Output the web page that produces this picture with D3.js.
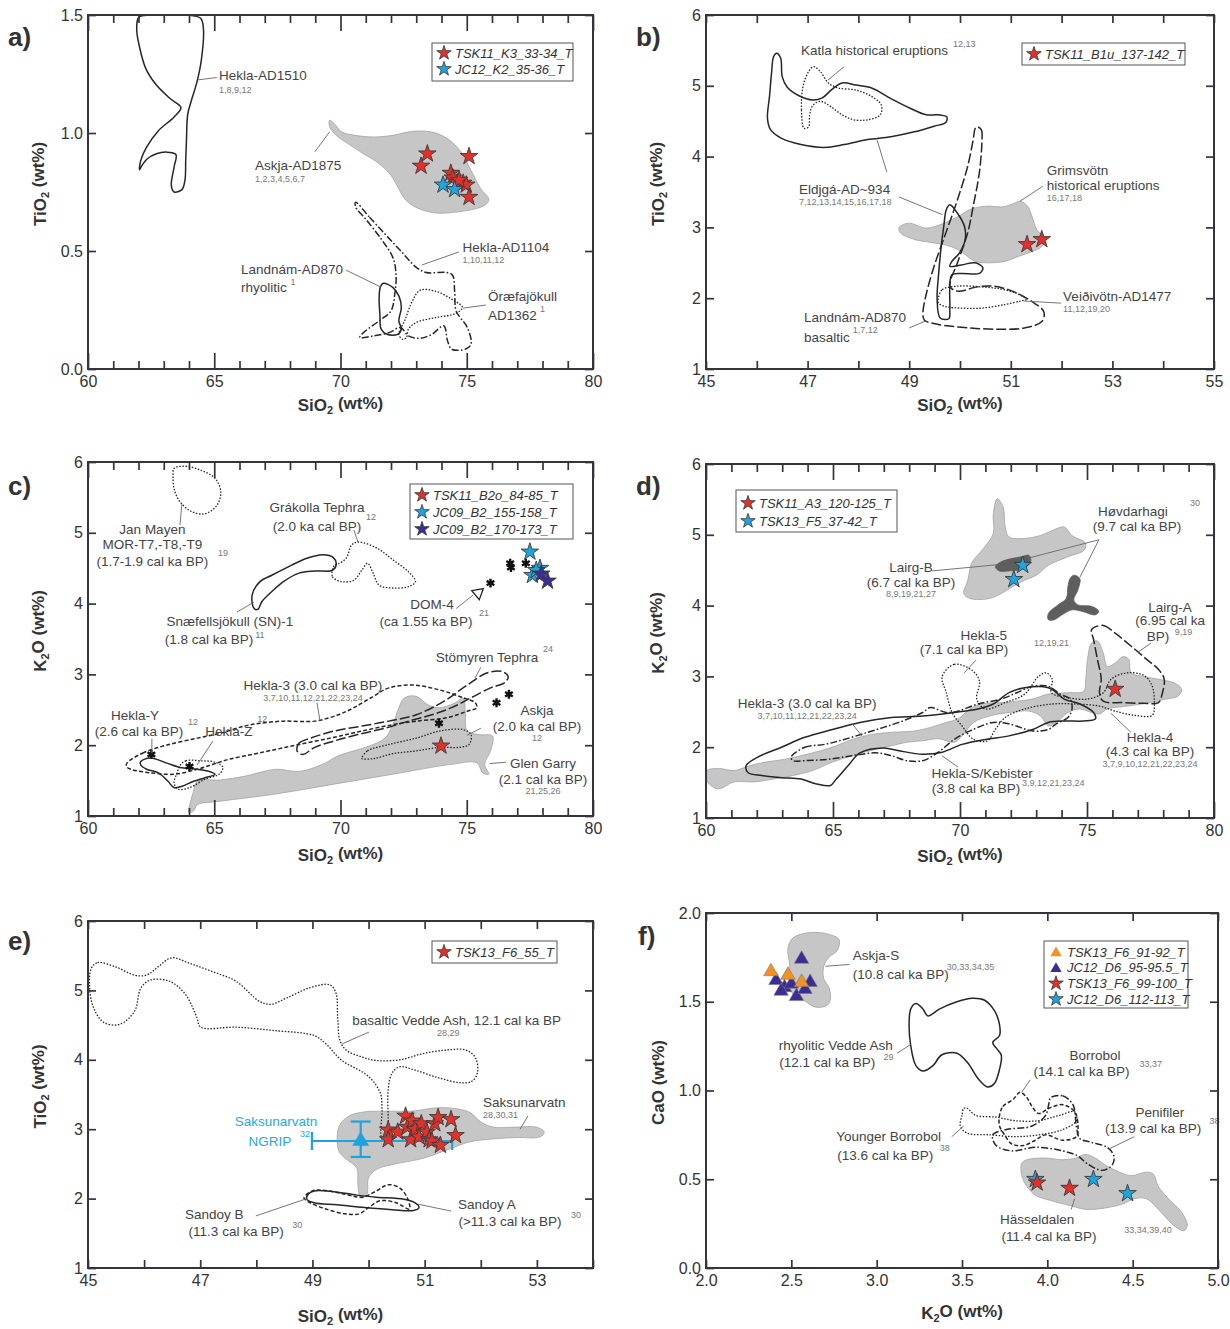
<!DOCTYPE html>
<html>
<head>
<meta charset="utf-8">
<script src="https://cdn.jsdelivr.net/npm/d3@7"></script>
<style>
  body { margin: 0; background: #fff; }
  svg text { font-family: "Liberation Sans", Arial, Helvetica, sans-serif; }
</style>
</head>
<body>
<script>
// colours of the sample markers
const RED = "#e2312b", BLUE = "#1ea5dd", PURPLE = "#3b2d93", ORANGE = "#f39222";

// ---------- panel a : TiO2 vs SiO2 ----------
const aHekla1510 = [[62.01,1.49],[62.48,1.50],[63.87,1.50],[64.46,1.486],[64.57,1.443],[64.49,1.31],[64.30,1.21],[64.10,1.14],[63.95,1.08],[63.90,0.97],[63.87,0.884],[63.84,0.80],[63.72,0.76],[63.41,0.75],[63.30,0.778],[63.41,0.856],[63.48,0.909],[63.10,0.919],[62.71,0.912],[62.35,0.891],[62.14,0.863],[62.04,0.844],[62.09,0.884],[62.32,0.94],[62.79,1.01],[63.41,1.068],[63.68,1.108],[63.25,1.146],[62.71,1.203],[62.29,1.273],[62.04,1.365],[61.93,1.436]];
const aAskja1875 = [[69.57,1.054],[69.75,1.04],[70.06,1.004],[70.6,0.99],[71.3,0.983],[72.07,0.99],[72.85,1.007],[73.62,1.004],[74.24,0.976],[74.78,0.919],[75.17,0.841],[75.56,0.763],[75.87,0.721],[75.79,0.70],[75.48,0.683],[74.86,0.669],[73.93,0.66],[73.39,0.669],[72.85,0.693],[72.54,0.721],[72.31,0.763],[72.0,0.82],[71.53,0.87],[70.91,0.912],[70.29,0.955],[69.83,0.99],[69.57,1.026]];
const aHekla1104 = [[70.6,0.707],[71.15,0.643],[71.76,0.572],[72.38,0.501],[73.0,0.431],[73.39,0.409],[74.4,0.402],[74.52,0.331],[74.58,0.246],[75.02,0.176],[75.17,0.105],[74.94,0.084],[74.4,0.084],[74.24,0.119],[74.09,0.183],[73.62,0.147],[73.16,0.13],[72.69,0.14],[72.38,0.176],[71.92,0.154],[71.3,0.14],[70.76,0.133],[70.91,0.154],[71.53,0.204],[72.0,0.246],[72.15,0.317],[72.2,0.402],[72.07,0.473],[71.61,0.551],[70.99,0.636],[70.6,0.686]];
const aLandnam = [[71.69,0.363],[72.07,0.346],[72.31,0.31],[72.41,0.261],[72.31,0.204],[72.41,0.169],[72.26,0.147],[71.84,0.147],[71.61,0.169],[71.56,0.232],[71.53,0.303],[71.58,0.348]];
const aOraefa = [[72.31,0.147],[72.54,0.204],[72.85,0.289],[73.16,0.334],[73.78,0.329],[74.4,0.296],[74.83,0.261],[74.55,0.235],[73.78,0.218],[73.0,0.197],[72.69,0.169],[72.61,0.133],[72.46,0.126]];
const aRed = [[73.44,0.912],[73.19,0.86],[75.09,0.901],[74.37,0.83],[74.45,0.81],[74.62,0.79],[74.86,0.788],[74.98,0.78],[75.09,0.728],[74.7,0.80]];
const aBlue = [[74.06,0.78],[74.52,0.761]];
const aNotes = [
  ["Hekla-AD1510",65.19,1.225,"start",0],["1,8,9,12",65.19,1.17,"start",1],
  ["Askja-AD1875",66.61,0.843,"start",0],["1,2,3,4,5,6,7",66.61,0.792,"start",1],
  ["Hekla-AD1104",74.83,0.496,"start",0],["1,10,11,12",74.83,0.449,"start",1],
  ["Landnám-AD870",66.06,0.403,"start",0],["rhyolitic",66.06,0.326,"start",0],["1",68.02,0.355,"start",1],
  ["Öræfajökull",75.84,0.288,"start",0],["AD1362",75.84,0.208,"start",0],["1",77.9,0.24,"start",1]
];
const aLeaders = [[64.35,1.225,65.1,1.235],[69.57,1.005,68.98,0.92],[73.23,0.441,74.69,0.496],[70.22,0.419,71.6,0.347],[74.85,0.258,75.76,0.271]];
const aLegend = [["star",RED,"TSK11_K3_33-34_T"],["star",BLUE,"JC12_K2_35-36_T"]];

// ---------- panel b : TiO2 vs SiO2 (basaltic) ----------
const bKatla = [[46.93,4.40],[46.88,4.66],[46.91,4.99],[47.02,5.20],[47.12,5.27],[47.25,5.20],[47.41,5.04],[47.60,4.97],[47.95,4.94],[48.26,4.85],[48.45,4.73],[48.43,4.59],[48.18,4.52],[47.91,4.52],[47.68,4.59],[47.45,4.71],[47.25,4.78],[47.10,4.72],[47.04,4.59],[47.02,4.42]];
const bEldgjaA = [[46.39,5.46],[46.47,5.39],[46.50,5.13],[46.60,4.98],[46.83,4.86],[47.10,4.80],[47.29,4.83],[47.48,4.95],[47.68,5.04],[47.95,5.01],[48.26,4.97],[48.64,4.82],[49.03,4.68],[49.34,4.59],[49.57,4.59],[49.74,4.56],[49.72,4.48],[49.49,4.43],[49.10,4.35],[48.64,4.28],[48.18,4.24],[47.72,4.17],[47.33,4.13],[46.87,4.17],[46.48,4.26],[46.27,4.38],[46.21,4.54],[46.25,4.85],[46.29,5.18],[46.33,5.41]];
const bEldgjaB = [[49.80,3.32],[49.95,3.20],[50.09,3.01],[50.10,2.82],[49.99,2.64],[49.84,2.52],[49.80,2.45],[50.03,2.47],[50.30,2.50],[50.45,2.43],[50.38,2.35],[50.03,2.35],[49.84,2.33],[49.80,2.17],[49.80,1.84],[49.78,1.71],[49.61,1.72],[49.55,1.98],[49.58,2.35],[49.63,2.73],[49.68,3.01],[49.73,3.25]];
const bLandnam = [[50.34,4.42],[50.42,4.38],[50.43,4.19],[50.38,3.77],[50.26,3.30],[50.15,2.92],[49.95,2.50],[49.80,2.17],[49.95,2.10],[50.34,2.16],[50.65,2.17],[51.03,2.10],[51.42,1.95],[51.65,1.81],[51.61,1.67],[51.27,1.58],[50.80,1.56],[50.19,1.58],[49.57,1.63],[49.30,1.69],[49.27,1.79],[49.34,2.07],[49.49,2.45],[49.72,2.92],[49.95,3.39],[50.15,3.86],[50.26,4.24],[50.30,4.40]];
const bVeidi = [[49.57,1.98],[49.65,2.12],[49.95,2.17],[50.42,2.16],[50.80,2.13],[51.11,2.07],[51.30,1.98],[51.19,1.96],[50.88,1.91],[50.42,1.86],[50.03,1.86],[49.72,1.88],[49.58,1.93]];
const bGrims = [[48.80,3.00],[48.99,3.06],[49.34,2.99],[49.65,3.05],[49.95,3.15],[50.22,3.26],[50.53,3.30],[50.84,3.29],[51.03,3.33],[51.19,3.37],[51.33,3.30],[51.42,3.15],[51.51,2.97],[51.65,2.85],[51.61,2.73],[51.42,2.66],[51.15,2.59],[50.88,2.52],[50.53,2.50],[50.30,2.52],[50.15,2.59],[49.95,2.69],[49.72,2.75],[49.41,2.79],[49.10,2.83],[48.83,2.92]];
const bRed = [[51.32,2.76],[51.61,2.83]];
const bNotes = [
  ["Katla historical eruptions",46.87,5.435,"start",0],["12,13",49.86,5.55,"start",1],
  ["Eldjgá-AD~934",46.83,3.47,"start",0],["7,12,13,14,15,16,17,18",46.83,3.32,"start",1],
  ["Grimsvötn",51.71,3.74,"start",0],["historical eruptions",51.71,3.53,"start",0],["16,17,18",51.71,3.37,"start",1],
  ["Veiðivötn-AD1477",52.03,1.96,"start",0],["11,12,19,20",52.03,1.81,"start",1],
  ["Landnám-AD870",46.93,1.66,"start",0],["basaltic",46.93,1.38,"start",0],["1,7,12",47.89,1.51,"start",1]
];
const bLeaders = [[47.72,5.27,47.40,5.08],[48.56,3.78,48.37,4.23],[48.80,3.43,49.65,3.18],[51.18,3.37,51.63,3.58],[51.26,1.96,51.99,1.93],[49.0,1.58,49.33,1.68]];
const bLegend = [["star",RED,"TSK11_B1u_137-142_T"]];

// ---------- panel c : K2O vs SiO2 ----------
const cJanMayen = [[63.41,5.91],[63.87,5.94],[64.49,5.88],[65.03,5.77],[65.26,5.58],[65.11,5.39],[64.64,5.27],[64.10,5.30],[63.64,5.44],[63.41,5.62],[63.37,5.79]];
const cSnaef = [[66.58,3.93],[66.50,4.12],[66.81,4.31],[67.28,4.40],[68.05,4.54],[68.67,4.64],[69.29,4.69],[69.72,4.65],[69.83,4.55],[69.68,4.47],[68.98,4.46],[68.36,4.43],[67.74,4.31],[67.28,4.17],[66.89,4.03],[66.73,3.92]];
const cGrakolla = [[69.75,4.54],[69.68,4.38],[70.06,4.31],[70.53,4.33],[70.84,4.47],[71.07,4.57],[71.27,4.45],[71.53,4.26],[72.07,4.22],[72.69,4.24],[72.97,4.31],[72.69,4.45],[72.07,4.62],[71.46,4.78],[70.71,4.87],[70.45,4.83],[70.22,4.64],[69.91,4.56]];
const cGlenGarry = [[63.99,1.09],[64.18,1.35],[64.33,1.49],[65.26,1.51],[66.19,1.56],[67.43,1.66],[68.36,1.63],[69.29,1.73],[69.91,1.85],[70.53,1.92],[71.15,1.99],[71.76,2.10],[72.07,2.29],[72.31,2.53],[72.54,2.67],[73.00,2.69],[73.47,2.57],[73.93,2.53],[74.55,2.60],[74.86,2.67],[74.94,2.48],[75.02,2.20],[75.48,2.15],[76.02,2.13],[75.94,1.92],[75.71,1.73],[75.87,1.59],[75.63,1.61],[75.40,1.75],[74.40,1.73],[72.07,1.59],[69.75,1.45],[67.43,1.31],[65.26,1.21],[64.33,1.16],[64.18,1.07],[63.99,1.05]];
const cHekla3 = [[61.55,1.75],[62.17,1.89],[63.10,2.00],[64.33,2.10],[65.26,2.17],[66.19,2.27],[66.81,2.31],[67.74,2.34],[68.98,2.34],[69.91,2.43],[70.53,2.53],[71.30,2.69],[71.92,2.81],[72.85,2.85],[73.93,2.78],[74.86,2.67],[75.33,2.60],[75.40,2.53],[75.02,2.48],[74.24,2.39],[73.00,2.34],[72.07,2.29],[70.84,2.20],[69.60,2.10],[68.36,2.01],[67.43,1.94],[66.50,1.87],[65.57,1.80],[64.95,1.73],[64.33,1.66],[63.41,1.59],[62.48,1.61],[61.70,1.66],[61.52,1.70]];
const cHeklaY = [[62.09,1.77],[62.48,1.82],[63.10,1.75],[63.72,1.68],[64.33,1.66],[64.80,1.63],[65.03,1.59],[64.64,1.54],[64.18,1.49],[63.72,1.42],[63.41,1.40],[63.17,1.49],[62.79,1.61],[62.32,1.66],[62.09,1.72]];
const cHeklaZ = [[63.64,1.71],[63.87,1.78],[64.49,1.78],[65.03,1.76],[65.34,1.69],[65.19,1.59],[64.64,1.52],[64.02,1.40],[63.56,1.38],[63.41,1.47],[63.53,1.61]];
const cStomyren = [[68.28,1.92],[68.36,2.03],[68.82,2.10],[69.75,2.20],[70.84,2.27],[71.92,2.34],[73.00,2.43],[74.09,2.62],[75.02,2.85],[75.79,3.02],[76.41,3.04],[76.64,2.97],[76.49,2.88],[75.94,2.81],[75.17,2.67],[74.40,2.53],[73.62,2.43],[72.69,2.34],[71.76,2.24],[70.68,2.15],[69.75,2.06],[68.98,1.97],[68.51,1.87]];
const cAskja = [[70.84,1.82],[71.07,1.92],[71.92,2.01],[73.00,2.10],[73.93,2.20],[74.86,2.22],[75.17,2.15],[75.09,2.01],[74.71,1.97],[73.93,1.97],[73.00,1.92],[72.07,1.88],[71.30,1.81],[70.84,1.81]];
const cAst = [[76.72,4.57],[76.75,4.51],[77.34,4.57],[75.94,4.29],[73.90,2.31],[76.18,2.60],[76.67,2.72],[62.51,1.87],[64.02,1.70]];
const cDom4 = [[75.45,4.15]];
const cRed = [[73.98,1.99]];
const cBlue = [[77.5,4.73],[77.9,4.50],[77.6,4.40],[77.75,4.47]];
const cPurple = [[77.95,4.42],[78.2,4.32]];
const cNotes = [
  ["Jan Mayen",62.55,4.98,"middle",0],["MOR-T7,-T8,-T9",62.55,4.77,"middle",0],["(1.7-1.9 cal ka BP)",62.55,4.53,"middle",0],["19",65.15,4.67,"start",1],
  ["Grákolla Tephra",69.07,5.29,"middle",0],["(2.0 ka cal BP)",69.07,5.03,"middle",0],["12",71.01,5.18,"start",1],
  ["Snæfellsjökull (SN)-1",65.62,3.68,"middle",0],["(1.8 cal ka BP)",64.79,3.43,"middle",0],["11",66.62,3.51,"start",1],
  ["DOM-4",73.62,3.92,"middle",0],["(ca 1.55 ka BP)",73.39,3.68,"middle",0],["21",75.49,3.82,"start",1],
  ["Stömyren Tephra",75.80,3.18,"middle",0],["24",78.02,3.32,"start",1],
  ["Hekla-3 (3.0 cal ka BP)",68.91,2.78,"middle",0],["3,7,10,11,12,21,22,23,24",68.91,2.62,"middle",1],
  ["Hekla-Y",61.86,2.36,"middle",0],["(2.6 cal ka BP)",62.02,2.13,"middle",0],["12",63.96,2.29,"start",1],
  ["Hekla-Z",65.58,2.13,"middle",0],["12",66.7,2.33,"start",1],
  ["Askja",77.78,2.43,"middle",0],["(2.0 ka cal BP)",77.78,2.20,"middle",0],["12",77.78,2.06,"middle",1],
  ["Glen Garry",78.02,1.68,"middle",0],["(2.1 cal ka BP)",78.02,1.45,"middle",0],["21,25,26",78.02,1.31,"middle",1]
];
const cLeaders = [[63.64,5.11,63.72,5.41],[70.53,5.04,70.69,4.87],[65.90,3.88,66.57,4.02],[74.58,3.93,75.25,4.12],[75.56,3.10,75.33,2.95],[69.07,2.60,69.19,2.34],[62.53,2.09,62.53,1.88],[64.95,2.06,64.32,1.72],[75.56,2.24,75.01,2.14],[75.9,1.74,76.55,1.76]];
const cLegend = [["star",RED,"TSK11_B2o_84-85_T"],["star",BLUE,"JC09_B2_155-158_T"],["star",PURPLE,"JC09_B2_170-173_T"]];

// ---------- panel d : K2O vs SiO2 ----------
const dHekla4 = [[60.03,1.67],[60.49,1.70],[61.11,1.67],[61.73,1.74],[62.35,1.79],[63.12,1.83],[63.74,1.88],[64.51,1.95],[65.13,2.02],[65.75,2.11],[66.52,2.18],[67.30,2.21],[68.22,2.23],[68.84,2.28],[69.46,2.35],[69.92,2.40],[70.39,2.54],[70.85,2.61],[71.62,2.63],[72.24,2.65],[72.86,2.68],[73.48,2.75],[74.25,2.77],[74.87,2.79],[74.95,2.96],[75.02,3.24],[75.18,3.47],[75.41,3.50],[75.64,3.33],[75.80,3.14],[76.11,3.19],[76.42,3.28],[76.65,3.24],[76.73,3.05],[77.19,3.00],[77.81,2.96],[78.42,2.91],[78.73,2.82],[78.58,2.72],[78.11,2.68],[77.50,2.63],[76.57,2.58],[75.80,2.54],[75.49,2.47],[75.18,2.49],[74.72,2.54],[74.25,2.49],[73.79,2.35],[73.48,2.30],[73.17,2.44],[72.71,2.51],[71.93,2.49],[71.16,2.44],[70.54,2.35],[70.08,2.16],[69.77,2.07],[69.15,2.12],[68.53,2.09],[67.91,2.07],[67.30,2.02],[66.68,1.97],[65.75,1.88],[64.98,1.79],[64.20,1.67],[63.43,1.60],[62.66,1.55],[61.89,1.51],[61.11,1.51],[60.49,1.41],[60.19,1.46],[60.00,1.55]];
const dLairgB = [[71.47,5.51],[71.70,5.39],[71.78,5.11],[71.93,4.97],[72.55,4.95],[73.17,4.99],[73.63,5.06],[74.10,5.11],[74.41,4.99],[74.95,4.88],[74.87,4.78],[74.25,4.69],[73.48,4.57],[73.01,4.43],[72.55,4.36],[72.09,4.27],[71.62,4.17],[71.16,4.10],[70.39,4.10],[70.15,4.17],[70.31,4.36],[70.46,4.60],[70.93,4.81],[71.31,5.02],[71.31,5.30]];
const dHovdA = [[71.39,4.55],[71.62,4.62],[72.40,4.69],[72.71,4.71],[72.79,4.64],[72.63,4.55],[72.40,4.51],[71.93,4.49],[71.55,4.49]];
const dHovdB = [[74.48,4.43],[74.72,4.38],[74.64,4.22],[74.48,4.08],[74.64,4.01],[75.18,3.99],[75.46,3.92],[75.33,3.87],[74.79,3.92],[74.41,3.94],[74.02,3.87],[73.71,3.80],[73.48,3.80],[73.48,3.89],[73.86,4.01],[74.18,4.10],[74.25,4.27],[74.33,4.38]];
const dHeklaS = [[61.58,1.74],[62.04,1.86],[62.97,2.00],[63.89,2.14],[64.98,2.25],[66.06,2.35],[67.30,2.42],[68.53,2.44],[69.77,2.49],[70.70,2.54],[71.31,2.61],[71.93,2.77],[72.55,2.84],[73.48,2.84],[73.86,2.75],[74.10,2.68],[74.72,2.61],[75.26,2.49],[75.33,2.40],[74.87,2.37],[74.10,2.37],[73.48,2.35],[72.86,2.25],[71.93,2.16],[71.00,2.11],[70.08,2.04],[69.30,1.93],[68.53,1.90],[67.60,1.95],[66.99,1.99],[66.06,1.92],[65.60,1.74],[65.13,1.55],[64.90,1.46],[64.36,1.48],[63.74,1.55],[62.97,1.57],[62.20,1.60],[61.66,1.64]];
const dHekla3 = [[63.35,1.86],[63.89,2.00],[64.67,2.04],[65.44,2.11],[66.37,2.21],[66.99,2.28],[67.60,2.35],[68.53,2.49],[68.84,2.56],[69.46,2.49],[69.92,2.51],[70.70,2.61],[71.62,2.68],[72.24,2.77],[72.86,2.86],[73.48,2.86],[73.94,2.75],[74.33,2.68],[74.41,2.54],[74.25,2.42],[73.79,2.33],[73.48,2.25],[72.86,2.23],[71.93,2.33],[71.31,2.35],[70.39,2.23],[69.77,2.11],[69.15,1.93],[68.53,1.81],[67.91,1.81],[67.30,1.88],[66.68,1.92],[65.75,1.88],[64.82,1.83],[63.89,1.81],[63.43,1.81]];
const dHekla5 = [[69.30,3.00],[69.77,3.17],[70.46,3.09],[70.77,2.93],[70.66,2.68],[71.00,2.54],[71.78,2.63],[72.55,2.75],[73.09,3.00],[73.40,3.05],[73.63,2.96],[73.60,2.77],[74.25,2.70],[75.02,2.68],[75.64,2.77],[75.95,2.96],[76.57,3.05],[77.26,3.01],[77.57,2.86],[77.65,2.63],[77.57,2.45],[76.88,2.45],[76.10,2.51],[75.49,2.58],[74.56,2.61],[73.63,2.61],[72.55,2.54],[71.78,2.42],[71.39,2.25],[71.08,2.09],[70.54,2.11],[70.08,2.30],[69.69,2.49],[69.46,2.77]];
const dLairgA = [[75.18,3.66],[75.64,3.72],[76.11,3.61],[76.73,3.43],[77.35,3.24],[77.81,3.10],[78.04,2.96],[77.97,2.77],[77.81,2.63],[77.19,2.62],[76.42,2.63],[75.64,2.65],[75.49,2.77],[75.56,2.96],[75.41,3.24],[75.26,3.52]];
const dRed = [[76.11,2.82]];
const dBlue = [[72.47,4.57],[72.12,4.37]];
const dNotes = [
  ["Høvdarhagi",76.81,5.27,"middle",0],["(9.7 cal ka BP)",76.97,5.05,"middle",0],["30",79.06,5.41,"start",1],
  ["Lairg-B",68.07,4.47,"middle",0],["(6.7 cal ka BP)",68.07,4.26,"middle",0],["8,9,19,21,27",68.07,4.12,"middle",1],
  ["Lairg-A",78.27,3.91,"middle",0],["(6.95 cal ka",78.27,3.73,"middle",0],["BP)",77.80,3.50,"middle",0],["9,19",78.45,3.59,"start",1],
  ["Hekla-5",70.94,3.51,"middle",0],["(7.1 cal ka BP)",70.16,3.32,"middle",0],["12,19,21",72.91,3.43,"start",1],
  ["Hekla-3 (3.0 cal ka BP)",63.98,2.55,"middle",0],["3,7,10,11,12,21,22,23,24",63.98,2.40,"middle",1],
  ["Hekla-4",77.48,2.07,"middle",0],["(4.3 cal ka BP)",77.48,1.88,"middle",0],["3,7,9,10,12,21,22,23,24",77.48,1.72,"middle",1],
  ["Hekla-S/Kebister",70.87,1.56,"middle",0],["(3.8 cal ka BP)",70.63,1.35,"middle",0],["3,9,12,21,23,24",72.44,1.45,"start",1]
];
const dLeaders = [[75.47,4.93,72.68,4.67],[75.47,4.93,74.72,4.40],[68.90,4.49,71.55,4.58],[77.52,3.47,77.0,3.34],[70.63,3.23,70.16,3.05],[65.75,2.33,66.14,2.16],[76.73,2.21,75.94,2.48],[69.92,1.72,69.29,1.88]];
const dLegend = [["star",RED,"TSK11_A3_120-125_T"],["star",BLUE,"TSK13_F5_37-42_T"]];

// ---------- panel e : TiO2 vs SiO2 (early Holocene basaltic) ----------
const eVedde = [[45.06,5.32],[45.17,5.40],[45.49,5.34],[45.83,5.22],[46.04,5.22],[46.25,5.34],[46.49,5.47],[46.81,5.39],[47.22,5.27],[47.64,5.13],[48.06,4.84],[48.26,4.80],[48.54,4.89],[48.96,5.04],[49.31,5.08],[49.42,4.96],[49.45,4.61],[49.49,4.28],[49.60,4.14],[49.88,4.04],[50.14,3.99],[50.56,4.00],[50.97,4.09],[51.39,4.14],[51.74,4.14],[51.91,4.02],[51.94,3.81],[51.84,3.69],[51.63,3.67],[51.25,3.74],[50.83,3.85],[50.56,3.90],[50.42,3.81],[50.35,3.57],[50.35,3.15],[50.35,2.86],[50.24,2.86],[50.24,3.29],[50.21,3.52],[50.00,3.76],[49.51,4.00],[49.24,4.23],[49.03,4.35],[48.33,4.42],[47.64,4.47],[47.01,4.47],[46.94,4.61],[46.74,4.94],[46.46,5.13],[46.11,5.15],[45.94,5.03],[45.83,4.70],[45.56,4.51],[45.28,4.54],[45.10,4.75],[45.03,5.03]];
const eSaks = [[49.44,2.82],[49.48,3.05],[49.65,3.19],[49.93,3.25],[50.35,3.26],[50.76,3.26],[51.25,3.31],[51.60,3.29],[51.81,3.24],[52.01,3.10],[52.22,3.03],[52.64,3.03],[52.99,3.03],[53.13,2.96],[53.06,2.89],[52.64,2.88],[52.22,2.86],[51.81,2.82],[51.46,2.72],[50.97,2.58],[50.42,2.49],[50.14,2.42],[50.00,2.30],[49.97,2.06],[49.86,2.01],[49.81,2.20],[49.79,2.44],[49.58,2.58],[49.48,2.67]];
const eSandoyB = [[48.92,2.06],[49.03,2.11],[49.38,2.10],[49.79,2.05],[50.14,2.02],[50.63,1.99],[50.83,1.94],[50.90,1.87],[50.80,1.83],[50.42,1.84],[49.93,1.87],[49.44,1.91],[49.03,1.94],[48.90,1.99]];
const eSandoyA = [[49.00,2.11],[49.19,2.12],[49.60,2.06],[49.88,2.02],[50.14,2.11],[50.35,2.20],[50.56,2.15],[50.69,2.01],[50.73,1.85],[50.49,1.94],[50.21,1.97],[50.00,1.87],[49.83,1.78],[49.58,1.78],[49.24,1.85],[48.96,1.94],[48.85,2.01]];
const eRed = [[50.35,2.99],[50.35,2.85],[50.52,2.96],[50.66,3.19],[50.69,3.03],[50.75,2.85],[50.78,3.12],[50.83,3.00],[50.94,3.08],[50.90,2.89],[51.04,2.96],[51.08,2.85],[51.13,2.83],[51.18,3.08],[51.24,3.17],[51.28,2.77],[51.47,3.14],[51.55,2.91]];
const eNgrip = [[49.86,2.83]];
const eNgripX = [48.99,51.49];
const eNgripY = [2.60,3.11];
const eNotes = [
  ["basaltic Vedde Ash, 12.1 cal ka BP",49.71,4.50,"start",0],["28,29",51.42,4.34,"middle",1],
  ["Saksunarvatn",52.04,3.32,"start",0],["28,30,31",52.04,3.16,"start",1],
  ["Saksunarvatn",48.35,3.05,"middle",2],["NGRIP",48.24,2.76,"middle",2],["32",48.78,2.89,"start",3],
  ["Sandoy B",47.25,1.71,"middle",0],["(11.3 cal ka BP)",47.64,1.46,"middle",0],["30",48.64,1.58,"start",1],
  ["Sandoy A",52.11,1.85,"middle",0],["(>11.3 cal ka BP)",52.52,1.61,"middle",0],["30",53.61,1.72,"start",1]
];
const eLeaders = [[49.53,4.23,50.01,4.40],[52.70,3.00,52.84,3.19],[47.99,1.75,48.90,2.00],[51.47,1.82,50.88,1.92]];
const eLegend = [["star",RED,"TSK13_F6_55_T"]];

// ---------- panel f : CaO vs K2O ----------
const fAskjaS = [[2.48,1.80],[2.51,1.86],[2.61,1.89],[2.72,1.88],[2.78,1.85],[2.77,1.79],[2.72,1.75],[2.69,1.70],[2.69,1.63],[2.72,1.58],[2.73,1.52],[2.71,1.48],[2.64,1.47],[2.57,1.51],[2.51,1.54],[2.49,1.62],[2.49,1.71]];
const fVedde = [[3.20,1.46],[3.23,1.49],[3.27,1.46],[3.30,1.42],[3.37,1.46],[3.47,1.50],[3.56,1.52],[3.63,1.51],[3.69,1.45],[3.72,1.37],[3.72,1.31],[3.68,1.27],[3.70,1.24],[3.73,1.20],[3.72,1.12],[3.69,1.04],[3.65,1.02],[3.60,1.06],[3.53,1.16],[3.47,1.21],[3.38,1.20],[3.33,1.14],[3.27,1.11],[3.23,1.14],[3.20,1.25],[3.19,1.37]];
const fBorrobol = [[3.72,0.86],[3.74,0.91],[3.80,0.95],[3.84,0.99],[3.88,0.96],[3.91,0.91],[3.95,0.87],[4.01,0.90],[4.09,0.92],[4.16,0.88],[4.18,0.80],[4.17,0.74],[4.09,0.72],[3.99,0.75],[3.93,0.72],[3.86,0.69],[3.79,0.70],[3.75,0.75],[3.72,0.80]];
const fYounger = [[3.51,0.90],[3.50,0.86],[3.49,0.80],[3.53,0.76],[3.67,0.75],[3.81,0.74],[3.95,0.75],[4.09,0.78],[4.17,0.83],[4.16,0.88],[4.07,0.86],[3.95,0.83],[3.81,0.83],[3.70,0.85],[3.58,0.86],[3.53,0.90]];
const fPenifiler = [[4.02,0.96],[4.09,0.97],[4.15,0.92],[4.17,0.80],[4.19,0.73],[4.25,0.71],[4.35,0.68],[4.39,0.63],[4.38,0.58],[4.32,0.55],[4.23,0.59],[4.18,0.63],[4.09,0.66],[3.93,0.68],[3.79,0.66],[3.70,0.69],[3.68,0.75],[3.76,0.78],[3.91,0.80],[3.99,0.86],[4.01,0.93]];
const fHassel = [[3.85,0.59],[3.88,0.61],[3.98,0.62],[4.09,0.61],[4.17,0.62],[4.22,0.64],[4.28,0.62],[4.34,0.58],[4.40,0.55],[4.49,0.52],[4.58,0.54],[4.62,0.53],[4.65,0.46],[4.71,0.39],[4.79,0.31],[4.82,0.24],[4.80,0.21],[4.74,0.24],[4.67,0.31],[4.58,0.39],[4.51,0.39],[4.44,0.36],[4.35,0.34],[4.23,0.33],[4.14,0.35],[4.02,0.38],[3.93,0.41],[3.88,0.46],[3.85,0.52]];
const fPurple = [[2.56,1.74],[2.41,1.62],[2.46,1.58],[2.53,1.53],[2.58,1.57],[2.61,1.61],[2.50,1.60],[2.44,1.56]];
const fOrange = [[2.38,1.67],[2.48,1.65],[2.56,1.61]];
const fBlue = [[3.93,0.50],[4.27,0.50],[4.47,0.42]];
const fRed = [[3.94,0.48],[4.13,0.45]];
const fNotes = [
  ["Askja-S",2.86,1.735,"start",0],["(10.8 cal ka BP)",2.86,1.63,"start",0],["30,33,34,35",3.41,1.68,"start",1],
  ["rhyolitic Vedde Ash",2.76,1.23,"middle",0],["(12.1 cal ka BP)",2.71,1.13,"middle",0],["29",3.04,1.17,"start",1],
  ["Borrobol",4.28,1.17,"middle",0],["(14.1 cal ka BP)",4.20,1.08,"middle",0],["33,37",4.54,1.13,"start",1],
  ["Penifiler",4.66,0.85,"middle",0],["(13.9 cal ka BP)",4.62,0.76,"middle",0],["38",4.95,0.81,"start",1],
  ["Younger Borrobol",3.07,0.715,"middle",0],["(13.6 cal ka BP)",3.05,0.61,"middle",0],["38",3.37,0.66,"start",1],
  ["Hässeldalen",3.94,0.25,"middle",0],["(11.4 cal ka BP)",4.01,0.15,"middle",0],["33,34,39,40",4.45,0.20,"start",1]
];
const fLeaders = [[2.70,1.70,2.84,1.71],[3.12,1.21,3.20,1.26],[3.90,1.06,3.85,0.99],[4.51,0.74,4.36,0.67],[3.44,0.74,3.51,0.80],[4.14,0.33,4.16,0.39]];
const fLegend = [["tri",ORANGE,"TSK13_F6_91-92_T"],["tri",PURPLE,"JC12_D6_95-95.5_T"],["star",RED,"TSK13_F6_99-100_T"],["star",BLUE,"JC12_D6_112-113_T"]];

// ---------- drawing ----------
const GRAY = "#c6c6c6", DARK = "#5e5e5e";
const DASH = { solid: null, dot: "1.5,1.6", dash: "4,2.2", dashdot: "7,2.2,1.6,2.2", long: "10,3" };
const STAR = 95;

const svg = d3.select("body").append("svg")
    .attr("width", 1230)
    .attr("height", 1329);

function symbolPath(type, size) {
  const t = type == "star" ? d3.symbolStar : type == "ast" ? d3.symbolAsterisk : d3.symbolTriangle;
  return d3.symbol(t, size)();
}

// text with a subscript part, e.g. ["SiO","2"," (wt%)"]
function subText(sel, parts) {
  sel.append("tspan").text(parts[0]);
  if (parts[1]) sel.append("tspan").attr("font-size", 11).attr("dy", "0.3em").text(parts[1]);
  sel.append("tspan").attr("dy", parts[1] ? "-0.3em" : 0).text(parts[2]);
}

function drawPanel(p) {
  const x = d3.scaleLinear().domain(p.xd).range([p.l, p.r]);
  const y = d3.scaleLinear().domain(p.yd).range([p.b, p.t]);
  const g = svg.append("g");

  g.append("clipPath").attr("id", "clip-" + p.id)
    .append("rect").attr("x", p.l).attr("y", p.t).attr("width", p.r - p.l).attr("height", p.b - p.t);
  const plot = g.append("g").attr("clip-path", "url(#clip-" + p.id + ")");

  const shape = d3.line()
      .x(function(d) { return x(d[0]); })
      .y(function(d) { return y(d[1]); })
      .curve(d3.curveCatmullRomClosed.alpha(0.5));

  // envelopes
  p.fills.forEach(function(f) {
    plot.append("path").attr("d", shape(f.pts))
      .attr("fill", f.fill).attr("stroke", f.fill == GRAY ? "#a3a3a3" : f.fill).attr("stroke-width", 0.8);
  });
  p.outlines.forEach(function(o) {
    plot.append("path").attr("d", shape(o.pts))
      .attr("fill", "none").attr("stroke", "#262626")
      .attr("stroke-width", o.style == "dot" ? 1.3 : 1.5)
      .attr("stroke-dasharray", DASH[o.style]);
  });

  // leader lines
  g.selectAll(null).data(p.leaders).join("line")
    .attr("x1", function(d) { return x(d[0]); }).attr("y1", function(d) { return y(d[1]); })
    .attr("x2", function(d) { return x(d[2]); }).attr("y2", function(d) { return y(d[3]); })
    .attr("stroke", "#666").attr("stroke-width", 0.9);

  if (p.extra) p.extra(plot, x, y);

  // sample markers
  p.marks.forEach(function(m) {
    const sel = plot.selectAll(null).data(m.pts).join("path")
      .attr("transform", function(d) { return "translate(" + x(d[0]) + "," + y(d[1]) + ")" + (m.rot ? " rotate(" + m.rot + ")" : ""); })
      .attr("d", symbolPath(m.type, m.size));
    if (m.type == "ast") {
      sel.attr("fill", "none").attr("stroke", "#111").attr("stroke-width", 2.4);
      plot.selectAll(null).data(m.pts).join("circle")
        .attr("cx", function(d) { return x(d[0]); }).attr("cy", function(d) { return y(d[1]); })
        .attr("r", 2.3).attr("fill", "#111");
    } else {
      sel.attr("fill", m.fill).attr("stroke", m.stroke || "#3a3a3a").attr("stroke-width", m.sw || 0.9);
    }
  });

  // envelope labels
  g.selectAll(null).data(p.notes).join("text")
    .attr("x", function(d) { return x(d[1]); })
    .attr("y", function(d) { return y(d[2]); })
    .attr("text-anchor", function(d) { return d[3]; })
    .attr("font-size", function(d) { return d[4] % 2 ? 9 : 13.5; })
    .attr("fill", function(d) { return d[4] >= 2 ? "#29a8df" : (d[4] ? "#777" : "#444"); })
    .text(function(d) { return d[0]; });

  // frame
  g.append("rect").attr("x", p.l).attr("y", p.t).attr("width", p.r - p.l).attr("height", p.b - p.t)
    .attr("fill", "none").attr("stroke", "#34343c").attr("stroke-width", 2);

  function addAxis(axis, tr, labels) {
    const a = g.append("g").attr("transform", tr).call(axis);
    a.select(".domain").remove();
    a.selectAll(".tick line").attr("stroke", "#34343c").attr("stroke-width", 1.7);
    a.selectAll("text").attr("font-size", 16).attr("fill", "#333");
    if (!labels) a.selectAll("text").remove();
    return a;
  }
  // x ticks: minor and major, bottom and top, pointing inward
  if (p.xMinor.length) {
    addAxis(d3.axisBottom(x).tickValues(p.xMinor).tickSizeInner(-8).tickSizeOuter(0), "translate(0," + p.b + ")", false);
    addAxis(d3.axisTop(x).tickValues(p.xMinor).tickSizeInner(-8).tickSizeOuter(0), "translate(0," + p.t + ")", false);
  }
  addAxis(d3.axisBottom(x).tickValues(p.xMajor).tickSizeInner(-p.majLen).tickSizeOuter(0).tickPadding(7).tickFormat(p.xFmt), "translate(0," + p.b + ")", true);
  addAxis(d3.axisTop(x).tickValues(p.xMajor).tickSizeInner(-p.majLen).tickSizeOuter(0), "translate(0," + p.t + ")", false);
  // y ticks
  addAxis(d3.axisLeft(y).tickValues(p.yTicks).tickSizeInner(-8).tickSizeOuter(0).tickPadding(5).tickFormat(p.yFmt), "translate(" + p.l + ",0)", true);
  addAxis(d3.axisRight(y).tickValues(p.yTicks).tickSizeInner(-8).tickSizeOuter(0), "translate(" + p.r + ",0)", false);

  // axis titles
  subText(g.append("text").attr("x", (p.l + p.r) / 2).attr("y", p.xTitleY)
    .attr("text-anchor", "middle").attr("font-size", 17).attr("font-weight", "bold").attr("fill", "#333"), p.xTitle);
  subText(g.append("text").attr("transform", "translate(" + p.yTitleX + "," + ((p.t + p.b) / 2 - 8) + ") rotate(-90)")
    .attr("text-anchor", "middle").attr("font-size", 17).attr("font-weight", "bold").attr("fill", "#333"), p.yTitle);

  // panel letter
  g.append("text").attr("x", p.lx).attr("y", p.ly).attr("font-size", 26).attr("font-weight", "bold")
    .attr("fill", "#333").text(p.id + ")");

  // legend
  const L = p.legend;
  const lg = g.append("g").attr("transform", "translate(" + (p.l + L.x) + "," + (p.t + L.y) + ")");
  lg.append("rect").attr("width", L.w).attr("height", L.h).attr("fill", "#fff")
    .attr("stroke", "#555").attr("stroke-width", 1);
  L.items.forEach(function(it, i) {
    const cy = L.dy0 + i * L.step;
    lg.append("path").attr("transform", "translate(12," + (cy + (it[0] == "tri" ? 1 : 0)) + ")")
      .attr("d", symbolPath(it[0], it[0] == "tri" ? 55 : 65))
      .attr("fill", it[1]).attr("stroke", it[0] == "tri" ? "none" : "#333").attr("stroke-width", 0.8);
    lg.append("text").attr("x", 23).attr("y", cy + 4.5).attr("font-size", 13)
      .attr("font-style", "italic").attr("fill", "#333").text(it[2]);
  });
}

const intTicks = function(a, b) { return d3.range(a, b + 1); };

drawPanel({
  id: "a", l: 88, r: 593, t: 15, b: 369, xd: [60, 80], yd: [0, 1.5],
  xMajor: [60, 65, 70, 75, 80], xMinor: intTicks(61, 79).filter(function(v) { return v % 5; }), majLen: 16,
  xFmt: d3.format("d"), yTicks: [0, 0.5, 1, 1.5], yFmt: d3.format(".1f"),
  xTitle: ["SiO", "2", " (wt%)"], yTitle: ["TiO", "2", " (wt%)"], xTitleY: 411, yTitleX: 46, lx: 8, ly: 46,
  fills: [{pts: aAskja1875, fill: GRAY}],
  outlines: [{pts: aHekla1510, style: "solid"}, {pts: aHekla1104, style: "dashdot"}, {pts: aOraefa, style: "dot"}, {pts: aLandnam, style: "solid"}],
  marks: [{pts: aRed, type: "star", size: STAR, fill: RED}, {pts: aBlue, type: "star", size: STAR, fill: BLUE}],
  notes: aNotes, leaders: aLeaders,
  legend: {x: 344, y: 28, w: 141, h: 38, dy0: 10, step: 16, items: aLegend}
});

drawPanel({
  id: "b", l: 706, r: 1214, t: 15, b: 369, xd: [45, 55], yd: [1, 6],
  xMajor: [45, 47, 49, 51, 53, 55], xMinor: [46, 48, 50, 52, 54], majLen: 8,
  xFmt: d3.format("d"), yTicks: intTicks(1, 6), yFmt: d3.format("d"),
  xTitle: ["SiO", "2", " (wt%)"], yTitle: ["TiO", "2", " (wt%)"], xTitleY: 411, yTitleX: 664, lx: 636, ly: 46,
  fills: [{pts: bGrims, fill: GRAY}],
  outlines: [{pts: bEldgjaA, style: "solid"}, {pts: bKatla, style: "dot"}, {pts: bEldgjaB, style: "solid"}, {pts: bLandnam, style: "long"}, {pts: bVeidi, style: "dot"}],
  marks: [{pts: bRed, type: "star", size: STAR, fill: RED}],
  notes: bNotes, leaders: bLeaders,
  legend: {x: 316, y: 28, w: 163, h: 22, dy0: 11, step: 16, items: bLegend}
});

drawPanel({
  id: "c", l: 88, r: 593, t: 462, b: 816, xd: [60, 80], yd: [1, 6],
  xMajor: [60, 65, 70, 75, 80], xMinor: intTicks(61, 79).filter(function(v) { return v % 5; }), majLen: 16,
  xFmt: d3.format("d"), yTicks: intTicks(1, 6), yFmt: d3.format("d"),
  xTitle: ["SiO", "2", " (wt%)"], yTitle: ["K", "2", "O (wt%)"], xTitleY: 861, yTitleX: 46, lx: 8, ly: 495,
  fills: [{pts: cGlenGarry, fill: GRAY}],
  outlines: [{pts: cJanMayen, style: "dot"}, {pts: cSnaef, style: "solid"}, {pts: cGrakolla, style: "dot"}, {pts: cHekla3, style: "dash"},
             {pts: cHeklaY, style: "solid"}, {pts: cHeklaZ, style: "dot"}, {pts: cStomyren, style: "long"}, {pts: cAskja, style: "dot"}],
  marks: [{pts: cAst, type: "ast", size: 55}, {pts: cDom4, type: "tri", size: 60, fill: "#fff", stroke: "#222", sw: 1.3, rot: 50},
          {pts: cRed, type: "star", size: STAR, fill: RED}, {pts: cBlue, type: "star", size: STAR, fill: BLUE}, {pts: cPurple, type: "star", size: STAR, fill: PURPLE}],
  notes: cNotes, leaders: cLeaders,
  legend: {x: 322, y: 22, w: 163, h: 55, dy0: 11, step: 17, items: cLegend}
});

drawPanel({
  id: "d", l: 706, r: 1214, t: 464, b: 818, xd: [60, 80], yd: [1, 6],
  xMajor: [60, 65, 70, 75, 80], xMinor: intTicks(61, 79).filter(function(v) { return v % 5; }), majLen: 16,
  xFmt: d3.format("d"), yTicks: intTicks(1, 6), yFmt: d3.format("d"),
  xTitle: ["SiO", "2", " (wt%)"], yTitle: ["K", "2", "O (wt%)"], xTitleY: 862, yTitleX: 664, lx: 636, ly: 495,
  fills: [{pts: dHekla4, fill: GRAY}, {pts: dLairgB, fill: GRAY}, {pts: dHovdA, fill: DARK}, {pts: dHovdB, fill: DARK}],
  outlines: [{pts: dHeklaS, style: "solid"}, {pts: dHekla3, style: "dashdot"}, {pts: dHekla5, style: "dot"}, {pts: dLairgA, style: "long"}],
  marks: [{pts: dRed, type: "star", size: STAR, fill: RED}, {pts: dBlue, type: "star", size: STAR, fill: BLUE}],
  notes: dNotes, leaders: dLeaders,
  legend: {x: 30, y: 26, w: 161, h: 42, dy0: 13, step: 18, items: dLegend}
});

drawPanel({
  id: "e", l: 88, r: 593, t: 921, b: 1268, xd: [45, 54], yd: [1, 6],
  xMajor: [45, 47, 49, 51, 53], xMinor: [46, 48, 50, 52, 54], majLen: 8,
  xFmt: d3.format("d"), yTicks: intTicks(1, 6), yFmt: d3.format("d"),
  xTitle: ["SiO", "2", " (wt%)"], yTitle: ["TiO", "2", " (wt%)"], xTitleY: 1322, yTitleX: 46, lx: 8, ly: 950,
  fills: [{pts: eSaks, fill: GRAY}],
  outlines: [{pts: eVedde, style: "dot"}, {pts: eSandoyB, style: "solid"}, {pts: eSandoyA, style: "dash"}],
  marks: [{pts: eRed, type: "star", size: STAR, fill: RED}, {pts: eNgrip, type: "tri", size: 110, fill: "#1fa3dc", stroke: "#1fa3dc", sw: 0.5}],
  extra: function(plot, x, y) {
    const c = "#1fa3dc", py = y(eNgrip[0][1]), px = x(eNgrip[0][0]);
    plot.append("line").attr("x1", x(eNgripX[0])).attr("x2", x(eNgripX[1])).attr("y1", py).attr("y2", py).attr("stroke", c).attr("stroke-width", 2.2);
    plot.append("line").attr("y1", y(eNgripY[0])).attr("y2", y(eNgripY[1])).attr("x1", px).attr("x2", px).attr("stroke", c).attr("stroke-width", 2.2);
    eNgripX.forEach(function(v) { plot.append("line").attr("x1", x(v)).attr("x2", x(v)).attr("y1", py - 9).attr("y2", py + 9).attr("stroke", c).attr("stroke-width", 2.2); });
    eNgripY.forEach(function(v) { plot.append("line").attr("x1", px - 10).attr("x2", px + 10).attr("y1", y(v)).attr("y2", y(v)).attr("stroke", c).attr("stroke-width", 2.2); });
  },
  notes: eNotes, leaders: eLeaders,
  legend: {x: 344, y: 20, w: 125, h: 22, dy0: 11, step: 16, items: eLegend}
});

drawPanel({
  id: "f", l: 706, r: 1218, t: 913, b: 1268, xd: [2, 5], yd: [0, 2],
  xMajor: [2, 2.5, 3, 3.5, 4, 4.5, 5], xMinor: [], majLen: 8,
  xFmt: d3.format(".1f"), yTicks: [0, 0.5, 1, 1.5, 2], yFmt: d3.format(".1f"),
  xTitle: ["K", "2", "O (wt%)"], yTitle: ["CaO (wt%)", "", ""], xTitleY: 1319, yTitleX: 664, lx: 638, ly: 945,
  fills: [{pts: fAskjaS, fill: GRAY}, {pts: fHassel, fill: GRAY}],
  outlines: [{pts: fVedde, style: "solid"}, {pts: fBorrobol, style: "dash"}, {pts: fYounger, style: "dot"}, {pts: fPenifiler, style: "dashdot"}],
  marks: [{pts: fPurple, type: "tri", size: 90, fill: PURPLE, stroke: "#777", sw: 0.6}, {pts: fOrange, type: "tri", size: 90, fill: ORANGE, stroke: "#777", sw: 0.6},
          {pts: fBlue, type: "star", size: STAR, fill: BLUE}, {pts: fRed, type: "star", size: STAR, fill: RED}],
  notes: fNotes, leaders: fLeaders,
  legend: {x: 338, y: 28, w: 144, h: 67, dy0: 11, step: 15.7, items: fLegend}
});
</script>
</body>
</html>
